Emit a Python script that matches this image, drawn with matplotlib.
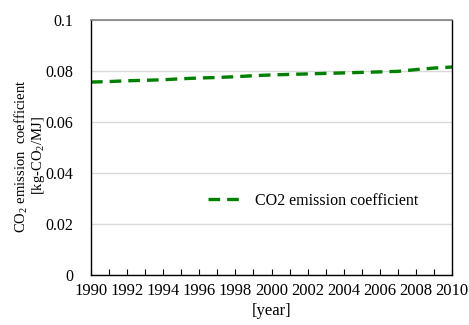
import matplotlib
matplotlib.use("Agg")
import matplotlib.pyplot as plt
from matplotlib.ticker import MultipleLocator

years = list(range(1990, 2011))
co2_coef = [0.0757, 0.0759, 0.0762, 0.0764, 0.0766, 0.0770, 0.0773, 0.0775,
            0.0778, 0.0782, 0.0785, 0.0787, 0.0789, 0.0791, 0.0793, 0.0795,
            0.0797, 0.0799, 0.0806, 0.0812, 0.0816]
series_label = "CO2 emission coefficient"
xticks = list(range(1990, 2011, 2))
yticks = [0, 0.02, 0.04, 0.06, 0.08, 0.1]
ytick_labels = ["0", "0.02", "0.04", "0.06", "0.08", "0.1"]

plt.rcParams['font.family'] = ['Liberation Serif', 'DejaVu Serif']
plt.rcParams['mathtext.fontset'] = 'custom'
plt.rcParams['mathtext.rm'] = 'Liberation Serif'

fig = plt.figure(figsize=(4.69, 3.25), dpi=100)
ax = fig.add_axes([0.194, 0.154, 0.770, 0.784])

ax.plot(years, co2_coef, color='#008000', lw=2.4, dashes=(3.5, 2.1),
        label=series_label)

ax.set_xlim(1990, 2010)
ax.set_ylim(0, 0.1)
ax.set_xticks(xticks)
ax.xaxis.set_minor_locator(MultipleLocator(1))
ax.set_yticks(yticks)
ax.set_yticklabels(ytick_labels)
ax.tick_params(axis='x', which='both', direction='in', length=4, width=0.8,
               labelsize=12, pad=6)
ax.tick_params(axis='y', length=0, labelsize=11.5, pad=13)
ax.grid(axis='y', color='#d9d9d9', lw=1)
ax.set_axisbelow(True)
for s in ['left', 'right', 'bottom']:
    ax.spines[s].set_color('black')
    ax.spines[s].set_linewidth(1)
ax.spines['top'].set_color('#808080')
ax.spines['top'].set_linewidth(1.2)

ax.set_xlabel('[year]', fontsize=12, labelpad=3)
ax.set_ylabel('CO$_2$ emission  coefficient\n[kg-CO$_2$/MJ]', fontsize=10.5,
              linespacing=0.95, va='center')
ax.yaxis.set_label_coords(-0.17, 0.467)

leg = ax.legend(loc='center', bbox_to_anchor=(0.615, 0.29), frameon=False,
                fontsize=11.5, handlelength=2.3, handletextpad=0.6)

fig.savefig('out.png', dpi=100)
